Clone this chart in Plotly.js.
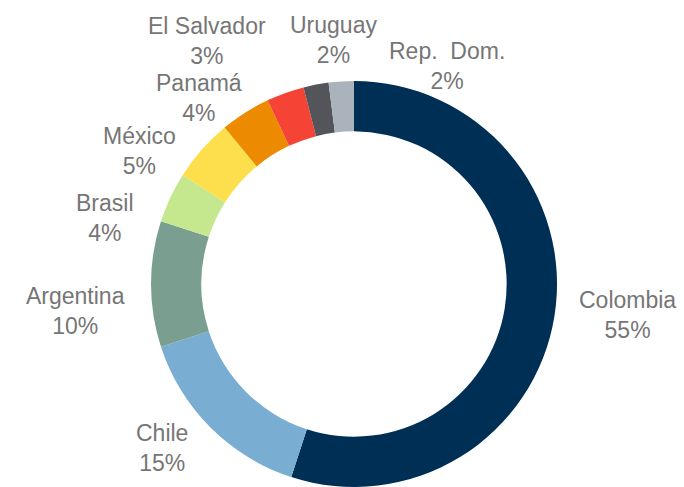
<!DOCTYPE html>
<html>
<head>
<meta charset="utf-8">
<script src="https://cdn.plot.ly/plotly-3.0.1.min.js"></script>
<style>
html,body{margin:0;padding:0;background:#fff;overflow:hidden;}
#chart{width:684px;height:500px;}
</style>
</head>
<body>
<div id="chart"></div>
<script>
// Data
var countries = ["Colombia","Chile","Argentina","Brasil","México","Panamá","El Salvador","Uruguay","Rep.  Dom."];
var shares = [55,15,10,4,5,4,3,2,2];

// Styles / layout helpers (not data)
var sliceColors = ["#002F56","#7AADD2","#7A9E8F","#C5E88E","#FDDF4D","#EC8B00","#F54336","#54555A","#AAB3BB"];
// label centre positions in pixels (x, y from top)
var labelPosX = [627,162,75,105,139,199,207,333,447];
var labelPosY = [315,448,311,218,151,98,41,40,66];

var W = 684, H = 500;
var cx = 354, cy = 284, R = 203;

var trace = {
  type: "pie",
  labels: countries,
  values: shares,
  sort: false,
  direction: "clockwise",
  rotation: 0,
  hole: 0.752,
  textinfo: "none",
  hoverinfo: "label+percent",
  marker: {colors: sliceColors, line: {width: 0}},
  domain: {x: [(cx - R) / W, (cx + R) / W], y: [1 - (cy + R) / H, 1 - (cy - R) / H]},
  showlegend: false
};

var annotations = countries.map(function (c, i) {
  return {
    text: c + "<br>" + shares[i] + "%",
    xref: "paper", yref: "paper",
    x: labelPosX[i] / W, y: 1 - labelPosY[i] / H,
    xanchor: "center", yanchor: "middle",
    showarrow: false,
    align: "center",
    font: {family: "Liberation Sans, Arial, sans-serif", size: 23, color: "#767676"}
  };
});

var layout = {
  width: W, height: H,
  margin: {l: 0, r: 0, t: 0, b: 0},
  paper_bgcolor: "#ffffff",
  plot_bgcolor: "#ffffff",
  annotations: annotations
};

Plotly.newPlot("chart", [trace], layout, {displayModeBar: false, staticPlot: true});
</script>
</body>
</html>
